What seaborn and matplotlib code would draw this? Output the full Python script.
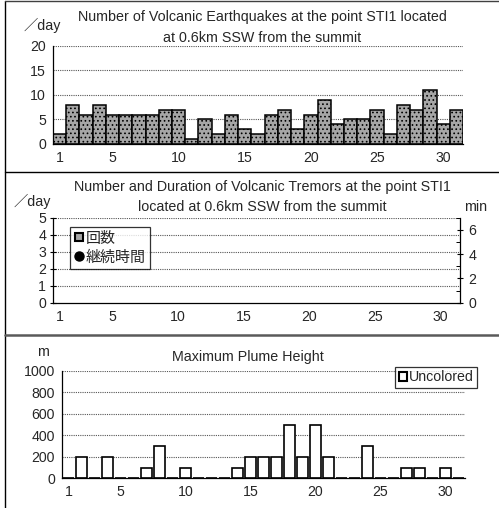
import numpy as np
import pandas as pd
import matplotlib
matplotlib.use("Agg")
import matplotlib.pyplot as plt
from matplotlib.lines import Line2D
from matplotlib.patches import Patch
import seaborn as sns

# ---- data -------------------------------------------------------------
days = list(range(1, 32))
quake_counts = [2, 8, 6, 8, 6, 6, 6, 6, 7, 7, 1, 5, 2, 6, 3, 2,
                6, 7, 3, 6, 9, 4, 5, 5, 7, 2, 8, 7, 11, 4, 7]
tremor_counts = [0] * 31
tremor_minutes = [np.nan] * 31
plume_heights = [0, 200, 0, 200, 0, 0, 100, 300, 0, 100, 0, 0, 0, 100, 200, 200,
                 200, 500, 200, 500, 200, 0, 0, 300, 0, 0, 100, 100, 0, 100, 0]
day_tick_labels = ["1", "5", "10", "15", "20", "25", "30"]
day_tick_values = [1, 5, 10, 15, 20, 25, 30]

quake_title = "Number of Volcanic Earthquakes at the point STI1 located\nat 0.6km SSW from the summit"
tremor_title = "Number and Duration of Volcanic Tremors at the point STI1\nlocated at 0.6km SSW from the summit"
plume_title = "Maximum Plume Height"

df = pd.DataFrame({"day": days, "quakes": quake_counts, "tremors": tremor_counts,
                   "minutes": tremor_minutes, "plume": plume_heights})

# ---- style ------------------------------------------------------------
sns.set_style("white")
plt.rcParams["font.family"] = ["Liberation Sans", "Noto Sans CJK JP", "DejaVu Sans"]
plt.rcParams["hatch.linewidth"] = 0.7
plt.rcParams["axes.unicode_minus"] = False

W, H = 499, 508
TXT = 10.3
TICK = 10.2
fig = plt.figure(figsize=(W / 100, H / 100), dpi=100)


def px_axes(left, top, right, bottom):
    return fig.add_axes([left / W, 1 - bottom / H, (right - left) / W, (bottom - top) / H])


def style_axes(ax, ymax, ymajor, yminor, grid_step):
    ax.set_xlim(-0.5, 30.5)
    ax.set_ylim(0, ymax)
    for s in ("top", "right"):
        ax.spines[s].set_visible(False)
    for s in ("left", "bottom"):
        ax.spines[s].set_color("black")
        ax.spines[s].set_linewidth(0.9)
    ax.set_xlabel("")
    ax.set_ylabel("")
    ax.set_xticks([d - 1 for d in day_tick_values])
    ax.set_xticklabels(day_tick_labels, fontsize=TICK)
    ax.set_xticks(np.arange(-0.5, 31, 1), minor=True)
    ax.tick_params(axis="x", which="major", length=0, pad=5)
    ax.tick_params(axis="x", which="minor", length=4, width=0.8, direction="inout", color="black")
    ax.set_yticks(np.arange(0, ymax + 0.001, ymajor))
    ax.set_yticks(np.arange(0, ymax + 0.001, yminor), minor=True)
    ax.tick_params(axis="y", which="major", length=4, width=0.8, direction="inout",
                   labelsize=TICK, color="black", pad=3)
    ax.tick_params(axis="y", which="minor", length=2.5, width=0.7, direction="in", color="black")
    for yv in np.arange(grid_step, ymax + 0.001, grid_step):
        ax.axhline(yv, color="#555555", lw=0.8, ls=(0, (1, 1)), zorder=0.5)


# ---- panel 1: volcanic earthquakes ---------------------------------------
ax1 = px_axes(53, 45.7, 463, 144)
sns.barplot(data=df, x="day", y="quakes", ax=ax1, width=1.0, color="#a6a6a6",
            saturation=1, edgecolor="black", linewidth=1.1, hatch="....", zorder=2)
style_axes(ax1, 20, 5, 1, 5)
ax1.tick_params(axis="x", which="minor", direction="out", length=3)
fig.text(262.5 / W, 1 - 27.5 / H, quake_title, ha="center", va="center",
         fontsize=TXT, linespacing=1.55)
fig.text(24 / W, 1 - 25 / H, "／day", ha="left", va="center", fontsize=TXT)

# ---- panel 2: volcanic tremors -------------------------------------------
ax2 = px_axes(53, 217.7, 460, 302.7)
sns.barplot(data=df, x="day", y="tremors", ax=ax2, width=1.0, color="#a6a6a6",
            saturation=1, edgecolor="black", linewidth=0, zorder=2)
style_axes(ax2, 5, 1, 1, 1)
ax2b = ax2.twinx()
ax2b.plot(np.arange(31), df["minutes"], "o", color="black", ms=5)
ax2b.set_ylim(0, 7)
ax2b.set_yticks([0, 2, 4, 6])
ax2b.set_yticks([1, 3, 5, 7], minor=True)
ax2b.tick_params(axis="y", which="major", length=4, width=0.8, direction="inout",
                 labelsize=TICK, color="black", pad=4)
ax2b.tick_params(axis="y", which="minor", length=3, width=0.7, direction="in", color="black")
for s in ("top", "left", "bottom"):
    ax2b.spines[s].set_visible(False)
ax2b.spines["right"].set_color("black")
ax2b.spines["right"].set_linewidth(0.9)
handles = [Line2D([], [], marker="s", ls="none", markersize=5.5, markerfacecolor="#a6a6a6",
                  markeredgecolor="black", markeredgewidth=1.5),
           Line2D([], [], marker="o", ls="none", markersize=6.5, color="black")]
leg2 = ax2.legend(handles, ["回数", "継続時間"], loc="upper left", bbox_to_anchor=(0.042, 0.89),
                  fontsize=10.8, frameon=True, fancybox=False, edgecolor="black",
                  handlelength=0.6, handletextpad=0.15, borderpad=0.3, labelspacing=0.3,
                  borderaxespad=0)
leg2.get_frame().set_linewidth(0.9)
fig.text(262 / W, 1 - 197.2 / H, tremor_title, ha="center", va="center",
         fontsize=TXT, linespacing=1.55)
fig.text(14 / W, 1 - 201.7 / H, "／day", ha="left", va="center", fontsize=TXT)
fig.text(476 / W, 1 - 206.7 / H, "min", ha="center", va="center", fontsize=TXT)

# ---- panel 3: plume height -----------------------------------------------
ax3 = px_axes(62, 371, 465, 478.3)
sns.barplot(data=df, x="day", y="plume", ax=ax3, width=0.77, color="white",
            saturation=1, edgecolor="black", linewidth=1.2, zorder=2)
style_axes(ax3, 1000, 200, 100, 200)
handles3 = [Patch(facecolor="white", edgecolor="black", linewidth=1.5)]
leg3 = ax3.legend(handles3, ["Uncolored"], loc="upper right", bbox_to_anchor=(1.03, 1.04),
                  fontsize=TICK, frameon=True, fancybox=False, edgecolor="black",
                  handlelength=0.55, handleheight=0.55, handletextpad=0.15, borderpad=0.25,
                  borderaxespad=0)
leg3.get_frame().set_linewidth(0.9)
fig.text(248 / W, 1 - 356.7 / H, plume_title, ha="center", va="center", fontsize=TXT)
fig.text(43 / W, 1 - 351.7 / H, "m", ha="center", va="center", fontsize=TXT)

# ---- panel frames ----------------------------------------------------------
fig.add_artist(Line2D([5 / W, 5 / W], [0, 1 - 1 / H], transform=fig.transFigure,
                      color="black", lw=1))
fig.add_artist(Line2D([5 / W, 1], [1 - 1 / H, 1 - 1 / H], transform=fig.transFigure,
                      color="#404040", lw=1))
fig.add_artist(Line2D([5 / W, 1], [1 - 172 / H, 1 - 172 / H], transform=fig.transFigure,
                      color="black", lw=1))
fig.add_artist(Line2D([5 / W, 1], [1 - 334.5 / H, 1 - 334.5 / H], transform=fig.transFigure,
                      color="#5a5a5a", lw=1.8))

fig.savefig("out.png", dpi=100)
